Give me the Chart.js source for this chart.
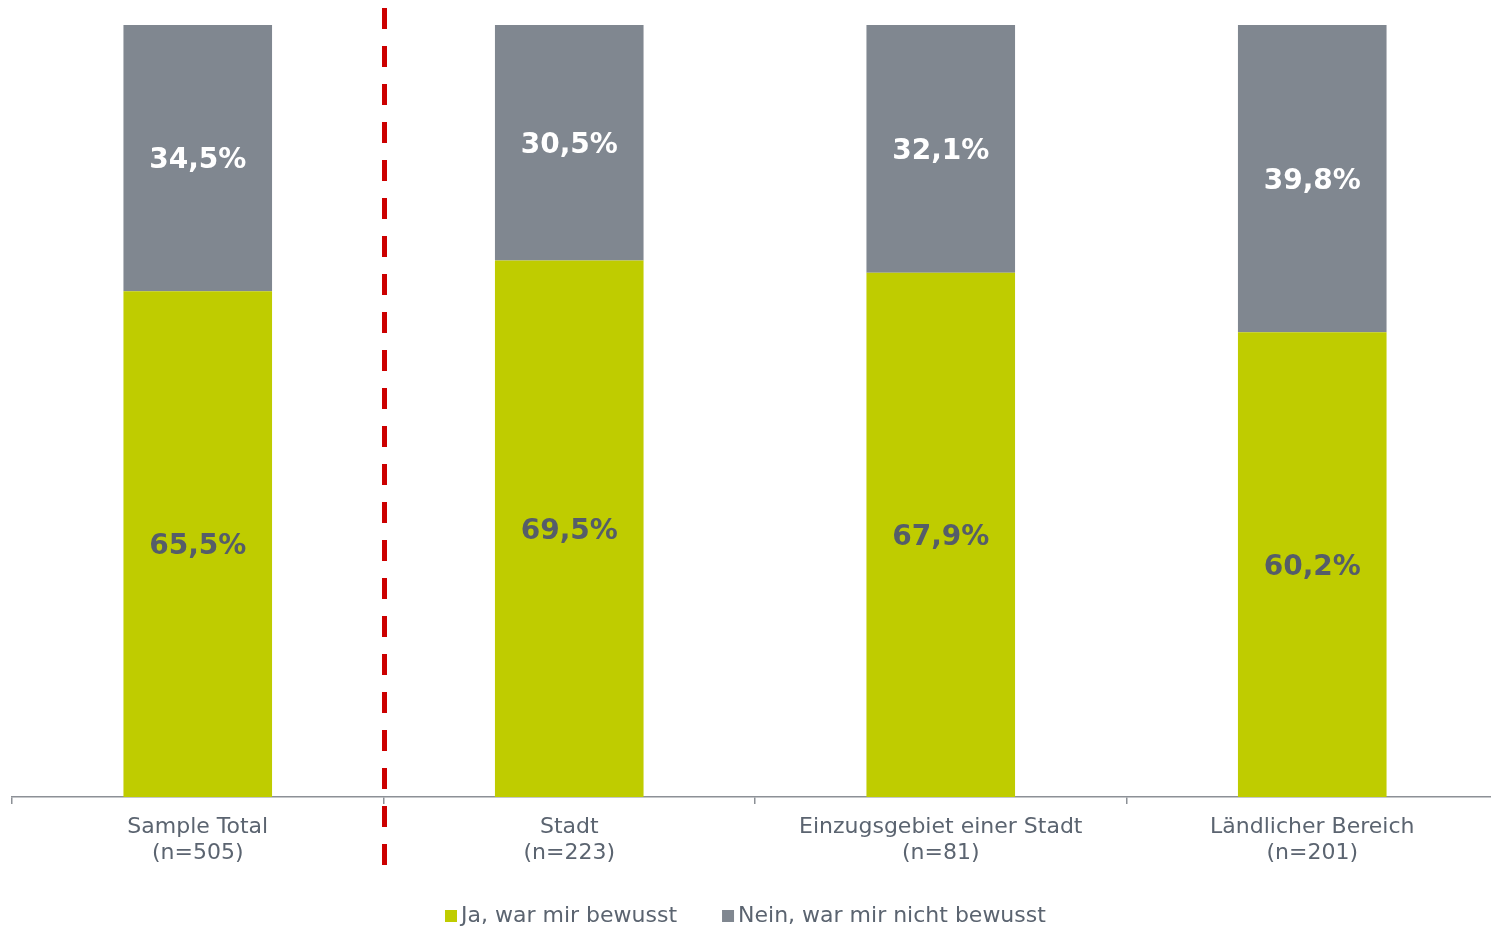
<!DOCTYPE html>
<html lang="de">
<head>
<meta charset="utf-8">
<title>Bewusstsein nach Wohngebiet</title>
<script src="https://cdn.jsdelivr.net/npm/chart.js@4.4.1/dist/chart.umd.min.js"></script>
<style>
    html, body { margin: 0; padding: 0; background: #ffffff; overflow: hidden; }
    /* a área do gráfico passa um pouco da borda direita da janela */
    #wrap { position: relative; width: 1499px; height: 929px; }
</style>
</head>
<body>
<div id="wrap"><canvas id="grafico"></canvas></div>
<script>
// Dados
const categorias = [
    ['Sample Total', '(n=505)'],
    ['Stadt', '(n=223)'],
    ['Einzugsgebiet einer Stadt', '(n=81)'],
    ['Ländlicher Bereich', '(n=201)']
];
const valoresJa = [65.5, 69.5, 67.9, 60.2];
const valoresNein = [34.5, 30.5, 32.1, 39.8];
const legendas = ['Ja, war mir bewusst', 'Nein, war mir nicht bewusst'];

// Cores
const CORES = {
    ja: '#bfcc00',
    nein: '#808790',
    eixo: '#8c9096',
    texto: '#5b6470',
    rotuloEscuro: '#555d69',
    rotuloClaro: '#ffffff',
    separador: '#cc0000'
};

const FONTE = '"DejaVu Sans", Verdana, sans-serif';

function formatar(v) {
    return v.toFixed(1).replace('.', ',') + '%';
}

// Rótulos de valor no centro de cada segmento
const rotulosPlugin = {
    id: 'rotulos',
    afterDatasetsDraw(chart) {
        const ctx = chart.ctx;
        ctx.save();
        ctx.font = 'bold 28px ' + FONTE;
        ctx.textAlign = 'center';
        ctx.textBaseline = 'middle';
        chart.data.datasets.forEach((ds, i) => {
            const meta = chart.getDatasetMeta(i);
            ctx.fillStyle = i === 0 ? CORES.rotuloEscuro : CORES.rotuloClaro;
            meta.data.forEach((bar, j) => {
                const meio = (bar.y + bar.base) / 2;
                ctx.fillText(formatar(ds.data[j]), bar.x, meio + 3);
            });
        });
        ctx.restore();
    }
};

// Linha tracejada vermelha entre o total e os subgrupos + legenda
const extrasPlugin = {
    id: 'extras',
    afterDraw(chart) {
        const ctx = chart.ctx;
        const x = chart.scales.x;
        const xSep = Math.round((x.getPixelForValue(0) + x.getPixelForValue(1)) / 2) + 0.5;

        ctx.save();
        ctx.strokeStyle = CORES.separador;
        ctx.lineWidth = 5;
        ctx.setLineDash([21, 17]);
        ctx.beginPath();
        ctx.moveTo(xSep, 8);
        ctx.lineTo(xSep, 866);
        ctx.stroke();
        ctx.setLineDash([]);

        // legenda
        ctx.font = '22px ' + FONTE;
        ctx.textBaseline = 'middle';
        ctx.textAlign = 'left';
        const yLeg = 916;
        const caixa = 12;
        const folga = 4;
        const espaco = 45;
        let cx = 445;
        chart.data.datasets.forEach((ds, i) => {
            ctx.fillStyle = ds.backgroundColor;
            ctx.fillRect(cx, yLeg - 6, caixa, caixa);
            ctx.fillStyle = CORES.texto;
            ctx.fillText(legendas[i], cx + caixa + folga, yLeg);
            cx += caixa + folga + ctx.measureText(legendas[i]).width + espaco;
        });
        ctx.restore();
    }
};

const ctx = document.getElementById('grafico').getContext('2d');
new Chart(ctx, {
    type: 'bar',
    data: {
        labels: categorias,
        datasets: [
            { label: legendas[0], data: valoresJa, backgroundColor: CORES.ja, barPercentage: 0.8, categoryPercentage: 0.5 },
            { label: legendas[1], data: valoresNein, backgroundColor: CORES.nein, barPercentage: 0.8, categoryPercentage: 0.5 }
        ]
    },
    options: {
        responsive: true,
        maintainAspectRatio: false,
        animation: false,
        layout: { padding: { left: 12, right: 1, top: 25, bottom: 0 } },
        plugins: { legend: { display: false }, tooltip: { enabled: false } },
        scales: {
            x: {
                stacked: true,
                afterFit(scale) { scale.height = 132; },
                border: { color: CORES.eixo, width: 1.5 },
                grid: {
                    offset: true,
                    drawOnChartArea: false,
                    drawTicks: true,
                    tickLength: 7,
                    color: CORES.eixo,
                    lineWidth: 1.5
                },
                ticks: {
                    color: CORES.texto,
                    font: { family: FONTE, size: 22, lineHeight: 1.2 },
                    padding: 10,
                    maxRotation: 0,
                    autoSkip: false
                }
            },
            y: {
                stacked: true,
                display: false,
                min: 0,
                max: 100
            }
        }
    },
    plugins: [rotulosPlugin, extrasPlugin]
});
</script>
</body>
</html>
